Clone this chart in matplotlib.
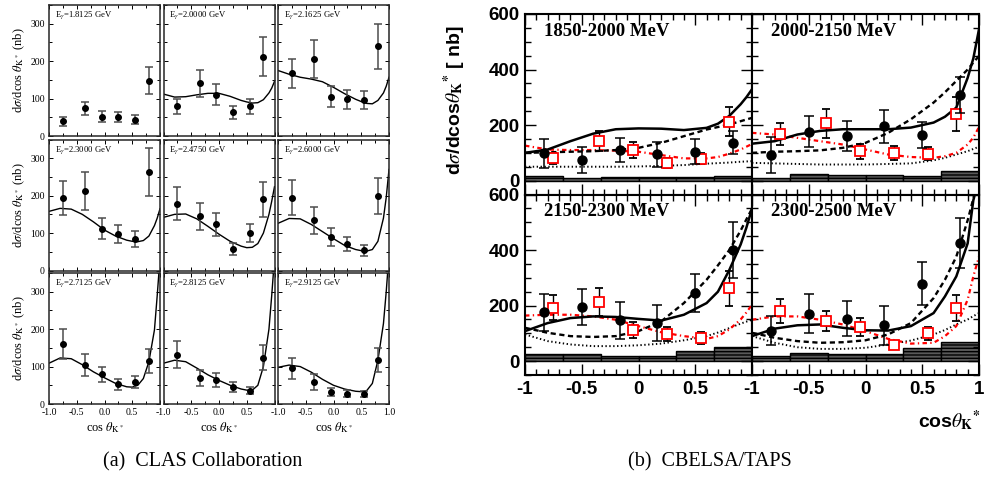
import numpy as np
import matplotlib
matplotlib.use('Agg')
import matplotlib.pyplot as plt
from matplotlib.ticker import MultipleLocator, FixedLocator, FuncFormatter

plt.rcParams['mathtext.fontset'] = 'stix'

# ---- CLAS data (left block) ----
clas_e = ['1.8125', '2.0000', '2.1625', '2.3000', '2.4750', '2.6000', '2.7125', '2.8125', '2.9125']
clas_x = [-0.75, -0.35, -0.05, 0.25, 0.55, 0.8]
clas_y = [[39, 74, 52, 50, 43, 148],
          [80, 141, 110, 63, 79, 212],
          [167, 206, 105, 98, 97, 240],
          [193, 213, 112, 98, 84, 263],
          [179, 145, 123, 58, 100, 190],
          [195, 134, 89, 71, 54, 199],
          [160, 104, 79, 53, 60, 115],
          [131, 69, 64, 46, 36, 124],
          [95, 58, 33, 28, 26, 117]]
clas_err = [[12, 18, 14, 13, 12, 36],
            [20, 36, 28, 18, 20, 52],
            [39, 51, 28, 25, 24, 60],
            [45, 51, 28, 24, 21, 63],
            [43, 36, 31, 16, 24, 47],
            [47, 36, 24, 19, 14, 49],
            [40, 29, 20, 15, 16, 33],
            [36, 21, 18, 14, 10, 34],
            [27, 21, 11, 9, 8, 32]]

# model curves for the CLAS panels (first energy has none)
clas_cx = [-1, -0.8, -0.6, -0.4, -0.2, 0, 0.2, 0.4, 0.5, 0.6, 0.7, 0.8, 0.9, 0.95, 1.0]
clas_curve = [None,
              [112, 104, 105, 110, 114, 114, 106, 95, 91, 88, 89, 97, 115, 128, 146],
              [175, 165, 157, 152, 145, 130, 113, 98, 92, 87, 86, 95, 115, 133, 157],
              [158, 166, 164, 150, 130, 108, 92, 81, 78, 77, 80, 92, 120, 140, 165],
              [142, 150, 151, 138, 118, 97, 78, 65, 61, 62, 72, 100, 150, 185, 224],
              [126, 139, 138, 123, 104, 85, 67, 56, 53, 52, 56, 78, 140, 195, 270],
              [109, 123, 121, 105, 86, 70, 55, 46, 45, 50, 68, 113, 198, 290, 390],
              [109, 117, 113, 96, 78, 63, 50, 40, 37, 37, 50, 100, 200, 290, 390],
              [98, 104, 100, 85, 66, 50, 40, 34, 33, 36, 55, 117, 215, 300, 400]]

# ---- CBELSA/TAPS data (right block) ----
cb_titles = ['1850-2000 MeV', '2000-2150 MeV', '2150-2300 MeV', '2300-2500 MeV']
cb_x = [-0.833, -0.5, -0.167, 0.167, 0.5, 0.833]
cb_y = [[98, 74, 110, 95, 104, 137],
        [92, 176, 160, 195, 164, 309],
        [176, 195, 147, 137, 245, 400],
        [110, 170, 153, 129, 279, 426]]
cb_err = [[51, 48, 44, 45, 45, 42],
          [64, 56, 54, 61, 47, 64],
          [67, 66, 67, 64, 69, 101],
          [52, 70, 63, 70, 78, 91]]
# CLAS energies overlaid (red squares) in each CBELSA bin
cb_clas = [1, 2, 3, 4]
cb_sys = [[16, 11, 13, 14, 14, 17],
          [11, 25, 20, 20, 16, 34],
          [27, 27, 20, 20, 35, 51],
          [20, 30, 24, 24, 48, 68]]

cb_cx = [-1, -0.8, -0.6, -0.4, -0.2, 0, 0.2, 0.4, 0.6, 0.7, 0.8, 0.9, 0.95, 1.0]
cb_solid = [[100, 112, 142, 169, 185, 188, 187, 182, 190, 205, 233, 275, 300, 329],
            [133, 142, 166, 179, 185, 185, 185, 191, 209, 230, 263, 370, 440, 545],
            [108, 137, 155, 161, 159, 152, 146, 167, 209, 250, 328, 420, 480, 549],
            [90, 117, 129, 132, 120, 111, 110, 126, 173, 233, 305, 424, 579, 660]]
cb_dash = [[100, 102, 104, 106, 110, 118, 136, 160, 184, 193, 202, 214, 220, 226],
           [100, 104, 106, 109, 118, 136, 172, 221, 281, 318, 359, 400, 425, 449],
           [120, 102, 90, 87, 90, 108, 143, 209, 293, 345, 400, 470, 510, 549],
           [102, 84, 72, 66, 68, 75, 96, 137, 227, 293, 376, 507, 585, 680]]
cb_dot = [[50, 50, 50, 50, 50, 51, 53, 56, 61, 63, 65, 68, 69, 70],
          [64, 62, 60, 58, 58, 58, 60, 62, 73, 82, 94, 106, 114, 122],
          [96, 72, 60, 54, 54, 57, 63, 75, 90, 103, 119, 135, 142, 149],
          [90, 66, 50, 44, 44, 48, 60, 74, 96, 112, 132, 150, 162, 173]]
cb_red = [[126, 112, 110, 110, 108, 104, 92, 80, 80, 85, 97, 112, 122, 132],
          [172, 166, 154, 142, 130, 112, 94, 85, 82, 88, 100, 130, 155, 193],
          [164, 167, 167, 161, 149, 126, 104, 90, 80, 90, 114, 150, 175, 203],
          [149, 161, 161, 149, 132, 108, 80, 63, 66, 90, 126, 221, 305, 376]]

W, H = 984, 482
fig = plt.figure(figsize=(W / 100, H / 100), dpi=100)


def ax_at(x0, y0, x1, y1):
    return fig.add_axes([x0 / W, 1 - y1 / H, (x1 - x0) / W, (y1 - y0) / H])


serif = 'Liberation Serif'
sans = 'Liberation Sans'

# ---------- left block ----------
col_l = [49, 163.5, 278]
row_t = [5, 139.5, 273]
pw, ph = 111, 131
for i in range(9):
    r, c = divmod(i, 3)
    ax = ax_at(col_l[c], row_t[r], col_l[c] + pw, row_t[r] + ph)
    ax.set_xlim(-1, 1)
    ax.set_ylim(0, 350)
    if clas_curve[i] is not None:
        ax.plot(clas_cx, clas_curve[i], color='black', lw=1.0)
    ax.errorbar(clas_x, clas_y[i], yerr=clas_err[i], fmt='o', color='black', ms=4,
                ecolor='0.3', elinewidth=1.1, capsize=3.2, capthick=1.1)
    ax.text(0.05, 0.92, r'E$_\gamma$=' + clas_e[i] + ' GeV', transform=ax.transAxes,
            family=serif, fontsize=6.2, va='center')
    ax.xaxis.set_major_locator(FixedLocator([-1, -0.5, 0, 0.5, 1]))
    ax.xaxis.set_minor_locator(MultipleLocator(0.25))
    ax.yaxis.set_major_locator(FixedLocator([0, 100, 200, 300]))
    ax.yaxis.set_minor_locator(MultipleLocator(50))
    ax.tick_params(which='both', direction='in', top=True, right=True, labelsize=7,
                   length=3, width=0.7, pad=3)
    ax.tick_params(which='minor', length=2)
    for lab in ax.get_xticklabels() + ax.get_yticklabels():
        lab.set_family(serif)
    if c == 2:
        ax.xaxis.set_major_formatter(FuncFormatter(lambda v, p: '%.1f' % v))
    else:
        ax.xaxis.set_major_formatter(FuncFormatter(lambda v, p: '' if v > 0.9 else '%.1f' % v))
    if r < 2:
        ax.tick_params(labelbottom=False)
    else:
        ax.set_xlabel(r'cos $\theta_{\mathrm{K}^*}$', family=serif, fontsize=9, labelpad=2)
    if c > 0:
        ax.tick_params(labelleft=False)
    else:
        ax.set_ylabel(r'd$\sigma$/dcos $\theta_{\mathrm{K}^*}$ (nb)', family=serif, fontsize=9,
                      labelpad=2)
    for s in ax.spines.values():
        s.set_linewidth(1.1)
        s.set_color('0.15')

fig.text(203 / W, 1 - 462 / H, '(a)  CLAS Collaboration', family=serif, fontsize=14.5,
         ha='center', va='center')

# ---------- right block ----------
cb_l = [525, 752]
cb_t = [14, 194.5]
cw, ch = 227, 180.5
edges = np.linspace(-1, 1, 7)
centers = (edges[:-1] + edges[1:]) / 2
for i in range(4):
    r, c = divmod(i, 2)
    ax = ax_at(cb_l[c], cb_t[r], cb_l[c] + cw, cb_t[r] + ch)
    ax.set_xlim(-1, 1)
    ax.set_ylim(-50, 600)
    ax.bar(centers, cb_sys[i], width=1 / 3, bottom=0, color='0.35', edgecolor='black',
           hatch='-----', lw=1.0, zorder=1)
    ax.plot(cb_cx, cb_dot[i], color='black', lw=1.4, ls=(0, (0.7, 1.3)), zorder=2)
    ax.plot(cb_cx, cb_red[i], color='red', lw=1.6, ls=(0, (2.0, 1.5, 0.6, 1.5)), zorder=2)
    ax.plot(cb_cx, cb_dash[i], color='black', lw=1.7, ls=(0, (2.2, 1.5)), zorder=2)
    ax.plot(cb_cx, cb_solid[i], color='black', lw=1.8, zorder=2)
    k = cb_clas[i]
    ax.errorbar(clas_x, clas_y[k], yerr=clas_err[k], fmt='s', ms=6.5, mfc='white', mec='red',
                mew=1.3, ecolor='black', elinewidth=1.0, capsize=3.2, capthick=1.0, zorder=3)
    ax.errorbar(cb_x, cb_y[i], yerr=cb_err[i], fmt='o', color='black', ms=6.5,
                ecolor='black', elinewidth=1.1, capsize=3.5, capthick=1.1, zorder=4)
    ax.text(0.085, 0.905, cb_titles[i], transform=ax.transAxes, family=serif,
            fontweight='bold', fontsize=13.5, va='center')
    ax.xaxis.set_major_locator(FixedLocator([-1, -0.5, 0, 0.5, 1]))
    ax.xaxis.set_minor_locator(MultipleLocator(0.1))
    ax.yaxis.set_major_locator(FixedLocator([0, 200, 400, 600]))
    ax.yaxis.set_minor_locator(MultipleLocator(50))
    ax.tick_params(which='both', direction='in', top=True, right=True, labelsize=13.5,
                   width=1.0, pad=4)
    ax.tick_params(which='major', length=8)
    ax.tick_params(which='minor', length=4.5)
    for lab in ax.get_xticklabels() + ax.get_yticklabels():
        lab.set_family(sans)
        lab.set_fontweight('bold')
    if c == 1:
        ax.xaxis.set_major_formatter(FuncFormatter(lambda v, p: '%g' % v))
    else:
        ax.xaxis.set_major_formatter(FuncFormatter(lambda v, p: '' if v > 0.9 else '%g' % v))
    if r == 0:
        ax.tick_params(labelbottom=False)
    if c == 1:
        ax.tick_params(labelleft=False)
    for s in ax.spines.values():
        s.set_linewidth(1.5)

fig.text(455 / W, 1 - 100 / H, r'd$\sigma$/dcos$\theta_{\mathbf{K}}$$^{\mathbf{*}}$ [ nb]',
         family=sans, fontweight='bold', fontsize=14, rotation=90, ha='center', va='center')
fig.text(981 / W, 1 - 421 / H, r'cos$\theta_{\mathbf{K}}$$^{\mathbf{*}}$', family=sans,
         fontweight='bold', fontsize=14, ha='right', va='center')
fig.text(710 / W, 1 - 462 / H, '(b)  CBELSA/TAPS', family=serif, fontsize=14.5,
         ha='center', va='center')

fig.savefig('out.png', dpi=100)
